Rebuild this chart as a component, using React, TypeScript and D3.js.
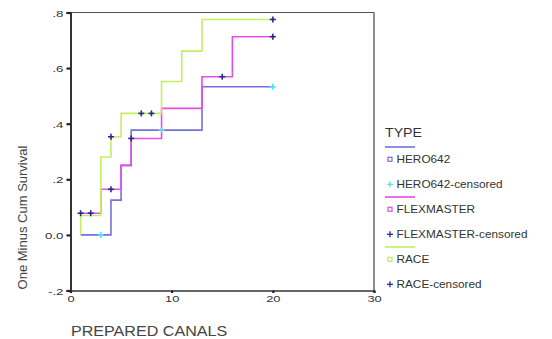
import React, { useEffect, useRef } from 'react';
import * as d3 from 'd3';

// axis ticks
const xTicks = [0, 10, 20, 30];
const yTicks = [-0.2, 0, 0.2, 0.4, 0.6, 0.8];
const yTickLabels = ['-.2', '0.0', '.2', '.4', '.6', '.8'];

// one minus cumulative survival, value after each step
const heroTimes = [1, 4, 5, 6, 13];
const heroValues = [0, 0.125, 0.25, 0.377, 0.533];
const heroCensored = [3, 9, 20];

const flexTimes = [1, 3, 5, 6, 9, 13, 16];
const flexValues = [0.078, 0.164, 0.25, 0.347, 0.455, 0.569, 0.713];
const flexCensored = [1, 2, 4, 6, 15, 20];

const raceTimes = [1, 1, 3, 4, 5, 9, 11, 13];
const raceValues = [0, 0.07, 0.28, 0.353, 0.437, 0.552, 0.661, 0.775];
const raceCensored = [4, 7, 8, 20];

const lastTime = 20;

const groups = ['HERO642', 'FLEXMASTER', 'RACE'];
const lineColors = ['#7470dc', '#e64ce6', '#c4ee62'];
const censorColors = ['#55e2ee', '#2a2a8c', '#2a2a8c'];

const W = 552;
const H = 339;
const FONT = 'Arial, "Liberation Sans", sans-serif';

const App = () => {
  const ref = useRef<SVGSVGElement>(null);

  useEffect(() => {
    const svg = d3.select(ref.current);
    svg.selectAll('*').remove();

    const x = d3.scaleLinear().domain([0, 30]).range([70.5, 374]);
    const y = d3.scaleLinear().domain([-0.2, 0.8]).range([290.5, 12.5]);

    const series = [
      { times: heroTimes, values: heroValues, censored: heroCensored },
      { times: flexTimes, values: flexValues, censored: flexCensored },
      { times: raceTimes, values: raceValues, censored: raceCensored },
    ];

    // frame
    svg.append('line').attr('x1', x(0)).attr('x2', x(30)).attr('y1', y(0.8)).attr('y2', y(0.8))
      .attr('stroke', '#555').attr('stroke-width', 1.2);
    svg.append('line').attr('x1', x(30)).attr('x2', x(30)).attr('y1', y(0.8)).attr('y2', y(-0.2))
      .attr('stroke', '#444').attr('stroke-width', 1.2);

    // y axis
    const yAxis = svg.append('g').attr('transform', `translate(${x(0)},0)`)
      .call(d3.axisLeft(y).tickValues(yTicks).tickSize(4).tickFormat((d, i) => yTickLabels[i]));
    yAxis.select('.domain').attr('stroke', '#333').attr('stroke-width', 2);
    yAxis.selectAll('.tick line').attr('stroke', '#222').attr('stroke-width', 2.2);
    yAxis.selectAll('.tick text')
      .attr('x', null).attr('dy', null)
      .attr('transform', 'translate(-7,3.5) scale(1.4,1)')
      .attr('font-family', FONT).attr('font-size', 9.5).attr('fill', '#333');

    // x axis
    const xAxis = svg.append('g').attr('transform', `translate(0,${y(-0.2)})`)
      .call(d3.axisBottom(x).tickValues(xTicks).tickSize(2.5));
    xAxis.select('.domain').attr('stroke', '#333').attr('stroke-width', 1.6);
    xAxis.selectAll('.tick line').attr('stroke', '#222').attr('stroke-width', 2.2);
    xAxis.selectAll('.tick text')
      .attr('y', null).attr('dy', null)
      .attr('transform', 'translate(0,11.5) scale(1.35,1)')
      .attr('font-family', FONT).attr('font-size', 9.5).attr('fill', '#333');

    // curves
    const line = d3.line<[number, number]>()
      .x(d => x(d[0])).y(d => y(d[1]))
      .curve(d3.curveStepAfter);

    const valueAt = (s, t) => {
      let v = s.values[0];
      s.times.forEach((tt, i) => { if (tt <= t) v = s.values[i]; });
      return v;
    };

    series.forEach((s, k) => {
      const pts: [number, number][] = s.times.map((t, i) => [t, s.values[i]]);
      pts.push([lastTime, s.values[s.values.length - 1]]);
      svg.append('path').datum(pts)
        .attr('fill', 'none').attr('stroke', lineColors[k]).attr('stroke-width', 1.6)
        .attr('d', line);
    });

    series.forEach((s, k) => {
      s.censored.forEach(t => {
        const cx = x(t);
        const cy = y(valueAt(s, t));
        const g = svg.append('g').attr('stroke', censorColors[k]).attr('stroke-width', 1.6);
        g.append('line').attr('x1', cx - 3).attr('x2', cx + 3).attr('y1', cy).attr('y2', cy);
        g.append('line').attr('x1', cx).attr('x2', cx).attr('y1', cy - 3).attr('y2', cy + 3);
      });
    });

    // axis titles
    svg.append('text')
      .attr('transform', 'translate(27,217.5) rotate(-90)')
      .attr('text-anchor', 'middle')
      .attr('font-family', FONT).attr('font-size', 13).attr('fill', '#444')
      .text('One Minus Cum Survival');
    svg.append('text')
      .attr('transform', 'translate(71,335.5) scale(1.15,1)')
      .attr('font-family', FONT).attr('font-size', 14).attr('fill', '#444')
      .text('PREPARED CANALS');

    // legend
    const legend = svg.append('g').attr('font-family', FONT).attr('fill', '#333');
    legend.append('text')
      .attr('transform', 'translate(385,137) scale(1.05,1)')
      .attr('font-size', 13.5).text('TYPE');
    groups.forEach((name, k) => {
      const top = 159.3 + k * 50;
      legend.append('line')
        .attr('x1', 385).attr('x2', 415).attr('y1', top - 12.3).attr('y2', top - 12.3)
        .attr('stroke', lineColors[k]).attr('stroke-width', 1.6);
      legend.append('rect')
        .attr('x', 388).attr('y', top - 2).attr('width', 4).attr('height', 4)
        .attr('fill', 'none').attr('stroke', lineColors[k] === '#c4ee62' ? '#b8e860' : lineColors[k])
        .attr('stroke-width', 1.2);
      legend.append('text')
        .attr('transform', `translate(396.5,${top + 3.6}) scale(1.18,1)`)
        .attr('font-size', 10).text(name);
      const cy = top + 25;
      const g = legend.append('g').attr('stroke', censorColors[k]).attr('stroke-width', 1.3);
      g.append('line').attr('x1', 387).attr('x2', 393).attr('y1', cy).attr('y2', cy);
      g.append('line').attr('x1', 390).attr('x2', 390).attr('y1', cy - 3).attr('y2', cy + 3);
      legend.append('text')
        .attr('transform', `translate(396.5,${cy + 3.6}) scale(1.18,1)`)
        .attr('font-size', 10).text(`${name}-censored`);
    });
  }, []);

  return (
    <svg ref={ref} width={W} height={H}
      style={{ position: 'absolute', left: 0, top: 0, background: '#fff' }} />
  );
};

export default App;
